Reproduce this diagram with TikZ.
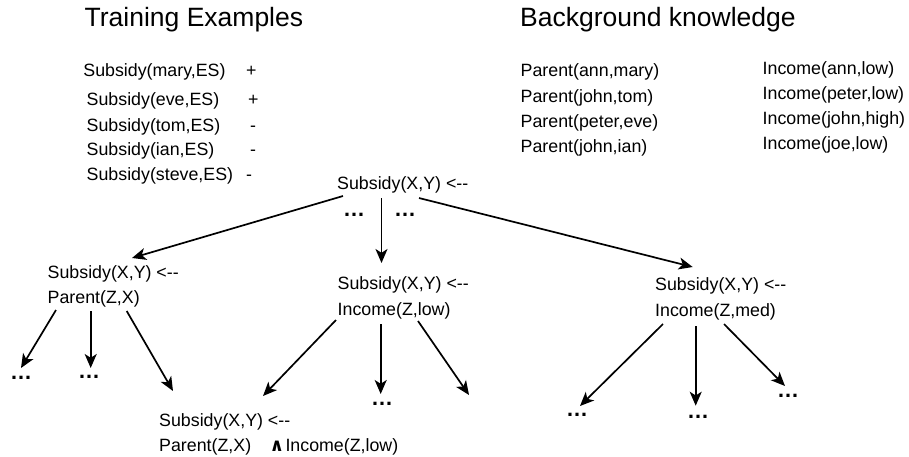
\documentclass[tikz,border=0pt]{standalone}
\usepackage{fontspec}
\setmainfont{Liberation Sans}
\newfontfamily\opfont{DejaVu Sans Bold}
\usetikzlibrary{arrows.meta}
\newcommand\hy{\mbox{-}}
\newcommand\larr{<\hy\hy}
\begin{document}
\begin{tikzpicture}[x=1pt,y=-1pt,
  txt/.style={inner sep=0pt, anchor=base west, font=\fontsize{17.8}{21}\selectfont},
  head/.style={inner sep=0pt, anchor=base west, font=\fontsize{26.5}{30}\selectfont},
  more/.style={inner sep=0pt, anchor=base west, font=\fontsize{22}{24}\selectfont\bfseries},
  arr/.style={line width=1.7pt, -{Stealth[length=14pt,width=12pt,inset=3.8pt]}}]
\useasboundingbox (0,0) rectangle (909,456);

% headings
\node[head] (th) at (84.5,26.7) {Training Examples};
\node[head] (bh) at (520,26.7) {Background knowledge};

% training examples with their labels
\node[txt] (e1) at (83.2,76.7) {Subsidy(mary,ES)};
\node[txt] (e2) at (86.5,105) {Subsidy(eve,ES)};
\node[txt] (e3) at (86.5,131) {Subsidy(tom,ES)};
\node[txt] (e4) at (86.5,155.7) {Subsidy(ian,ES)};
\node[txt] (e5) at (86.5,180) {Subsidy(steve,ES)};
\node[txt] (s1) at (246,76.7) {+};
\node[txt] (s2) at (248,105) {+};
\node[txt] (s3) at (250,131) {\hy};
\node[txt] (s4) at (250,155.7) {\hy};
\node[txt] (s5) at (246,180) {\hy};

% background facts
\node[txt] (p1) at (520.5,76.7) {Parent(ann,mary)};
\node[txt] (p2) at (520.5,102.7) {Parent(john,tom)};
\node[txt] (p3) at (520.5,127.7) {Parent(peter,eve)};
\node[txt] (p4) at (520.5,152.7) {Parent(john,ian)};
\node[txt] (i1) at (762.5,74) {Income(ann,low)};
\node[txt] (i2) at (762.5,99.3) {Income(peter,low)};
\node[txt] (i3) at (762.5,124.3) {Income(john,high)};
\node[txt] (i4) at (762.5,149.3) {Income(joe,low)};

% refinement tree: clauses
\node[txt] (root) at (337,189.5) {Subsidy(X,Y) \larr};
\node[txt] (pa) at (47.5,278.3) {Subsidy(X,Y) \larr};
\node[txt] (pb) at (47.5,303.3) {Parent(Z,X)};
\node[txt] (ma) at (337.5,289.5) {Subsidy(X,Y) \larr};
\node[txt] (mb) at (337.5,315) {Income(Z,low)};
\node[txt] (ra) at (655,290.5) {Subsidy(X,Y) \larr};
\node[txt] (rb) at (655,316.5) {Income(Z,med)};
\node[txt] (ba) at (159,426) {Subsidy(X,Y) \larr};
\node[txt] (bb) at (159,451.5) {Parent(Z,X)\hspace{18.5pt}{\opfont\fontsize{18}{18}\selectfont ∧}\hspace{1.2pt}Income(Z,low)};

% elided refinements
\node[more] (rd1) at (343,216.2) {…};
\node[more] (rd2) at (394,216.2) {…};
\node[more] (pd1) at (10,379.2) {…};
\node[more] (pd2) at (78,378.2) {…};
\node[more] (md) at (371,405.2) {…};
\node[more] (rd3) at (566,416.2) {…};
\node[more] (rd4) at (687,418.2) {…};
\node[more] (rd5) at (777,397.2) {…};

% connector ends
\coordinate (root-l) at (343,196);
\coordinate (root-m) at (381.5,198);
\coordinate (root-r) at (419,198);
\coordinate (pa-in) at (132,258);
\coordinate (ma-in) at (381.5,263);
\coordinate (ra-in) at (692.7,267);

\coordinate (pb-l) at (56,310);
\coordinate (pb-m) at (90.7,311);
\coordinate (pb-r) at (126.7,311);
\coordinate (pd1-in) at (21,368);
\coordinate (pd2-in) at (90.7,368);
\coordinate (ba-in) at (173,391);

\coordinate (mb-l) at (336,320);
\coordinate (mb-m) at (380.7,324);
\coordinate (mb-r) at (418,321);
\coordinate (ba-in2) at (263,396);
\coordinate (md-in) at (380.7,394);
\coordinate (mr-in) at (469,395);

\coordinate (rb-l) at (663,324);
\coordinate (rb-m) at (695.7,326);
\coordinate (rb-r) at (724,324);
\coordinate (rd3-in) at (580,406);
\coordinate (rd4-in) at (695.7,405.7);
\coordinate (rd5-in) at (785,386);

% connectors
\draw[arr] (root-l) -- (pa-in);
\draw[arr] (root-m) -- (ma-in);
\draw[arr] (root-r) -- (ra-in);

\draw[arr] (pb-l) -- (pd1-in);
\draw[arr] (pb-m) -- (pd2-in);
\draw[arr] (pb-r) -- (ba-in);

\draw[arr] (mb-l) -- (ba-in2);
\draw[arr] (mb-m) -- (md-in);
\draw[arr] (mb-r) -- (mr-in);

\draw[arr] (rb-l) -- (rd3-in);
\draw[arr] (rb-m) -- (rd4-in);
\draw[arr] (rb-r) -- (rd5-in);
\end{tikzpicture}
\end{document}
